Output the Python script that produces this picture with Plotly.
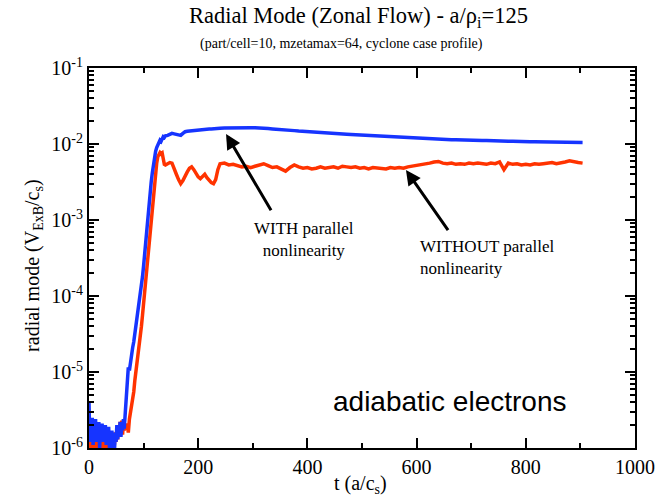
import numpy as np
import plotly.graph_objects as go

# ---- time grid (a/c_s), sampled in segments ----
t_noise = np.arange(0, 66.1, 1.5)      # 45 samples, linear phase noise floor
t_rise = np.arange(68, 140.1, 2)       # 37 samples, exponential growth
t_knee = np.arange(144, 240.1, 4)      # 25 samples, saturation
t_late = np.arange(248, 904.1, 8)      # 83 samples, nonlinear phase

# ---- WITH parallel nonlinearity (blue) ----
blue_noise = np.array([
    4.1, 1.2, 2.3, 1.4, 2.5, 1.1, 2.0, 1.6, 2.4, 1.2,
    1.9, 1.5, 2.2, 1.0, 1.8, 1.4, 2.1, 1.2, 1.7, 1.3,
    2.0, 1.1, 1.6, 1.4, 1.9, 1.0, 1.5, 0.8, 1.7, 0.7,
    1.4, 0.85, 1.6, 1.2, 2.0, 1.3, 1.8, 1.5, 2.2, 1.4,
    2.0, 1.7, 2.4, 1.8, 2.6]) * 1e-6
blue_rise = [
    4.0e-6, 8.5e-6, 1.15e-5, 1.05e-5, 1.4e-5, 1.7e-5, 2.1e-5, 2.5e-5, 3.2e-5, 3.8e-5,
    4.6e-5, 6.3e-5, 7.6e-5, 9.5e-5, 1.26e-4, 1.8e-4, 2.5e-4, 3.7e-4, 5.6e-4, 8.0e-4,
    1.12e-3, 1.6e-3, 2.4e-3, 3.2e-3, 4.2e-3, 5.6e-3, 7.0e-3, 8.0e-3, 9.0e-3, 9.8e-3,
    1.05e-2, 1.12e-2, 1.08e-2, 1.2e-2, 1.25e-2, 1.22e-2, 1.28e-2]
blue_knee = np.array([
    1.30, 1.34, 1.38, 1.36, 1.33, 1.31, 1.30, 1.38, 1.45, 1.47,
    1.48, 1.51, 1.53, 1.52, 1.54, 1.55, 1.56, 1.55, 1.57, 1.58,
    1.57, 1.59, 1.60, 1.60, 1.61]) * 1e-2
blue_late = np.array([
    1.62, 1.63, 1.64, 1.63, 1.65, 1.66, 1.64, 1.63, 1.63, 1.61,
    1.60, 1.58, 1.57, 1.56, 1.54, 1.52, 1.50, 1.48, 1.47, 1.45,
    1.43, 1.42, 1.41, 1.39, 1.38, 1.37, 1.36, 1.35, 1.34, 1.33,
    1.32, 1.31, 1.30, 1.29, 1.28, 1.27, 1.26, 1.25, 1.24, 1.23,
    1.22, 1.21, 1.20, 1.20, 1.19, 1.18, 1.17, 1.17, 1.16, 1.16,
    1.15, 1.15, 1.14, 1.14, 1.13, 1.13, 1.12, 1.12, 1.12, 1.11,
    1.11, 1.10, 1.10, 1.10, 1.09, 1.09, 1.09, 1.08, 1.08, 1.08,
    1.07, 1.07, 1.07, 1.07, 1.06, 1.06, 1.06, 1.06, 1.05, 1.05,
    1.05, 1.05, 1.05]) * 1e-2

# ---- WITHOUT parallel nonlinearity (red) ----
red_noise = np.array([
    1.3, 0.9, 1.4, 1.0, 1.5, 0.8, 1.3, 0.9, 1.6, 1.1,
    1.4, 0.9, 1.3, 1.0, 1.5, 1.1, 1.3, 0.9, 1.2, 1.0,
    1.4, 0.9, 1.3, 1.1, 1.5, 0.6, 1.2, 0.9, 1.4, 1.0,
    1.3, 1.1, 1.6, 1.2, 1.8, 1.3, 2.0, 1.5, 2.2, 1.6,
    2.3, 1.5, 2.1, 1.7, 1.9]) * 1e-6
red_rise = [
    1.8e-6, 2.1e-6, 1.6e-6, 2.4e-6, 2.9e-6, 3.4e-6, 4.2e-6, 5.5e-6, 7.8e-6, 1.0e-5,
    1.3e-5, 1.7e-5, 2.2e-5, 2.9e-5, 4.0e-5, 5.6e-5, 8.0e-5, 1.15e-4, 1.7e-4, 2.6e-4,
    4.0e-4, 5.8e-4, 8.5e-4, 1.15e-3, 1.6e-3, 2.3e-3, 3.2e-3, 4.3e-3, 5.6e-3, 6.8e-3,
    7.5e-3, 7.7e-3, 7.4e-3, 7.6e-3, 6.4e-3, 5.4e-3, 5.3e-3]
red_knee = np.array([
    5.5, 5.7, 5.6, 4.6, 4.0, 3.4, 3.0, 3.3, 3.9, 4.3,
    4.8, 5.0, 4.6, 4.0, 3.7, 3.5, 3.8, 4.0, 3.6, 3.3,
    3.1, 3.0, 3.4, 4.6, 5.5]) * 1e-3
red_late = np.array([
    5.6, 5.3, 5.4, 5.2, 5.0, 5.1, 4.9, 5.1, 5.3, 5.5,
    5.2, 4.9, 5.0, 4.7, 4.4, 4.9, 5.3, 5.0, 4.8, 4.9,
    4.7, 4.8, 5.0, 4.8, 4.9, 5.0, 4.8, 5.1, 5.0, 4.9,
    5.0, 4.8, 4.9, 4.7, 4.9, 4.8, 4.8, 4.7, 4.9, 4.8,
    4.9, 4.8, 5.0, 5.1, 5.3, 5.4, 5.5, 5.6, 5.8, 5.9,
    5.6, 5.5, 5.6, 5.4, 5.5, 5.4, 5.6, 5.5, 5.6, 5.5,
    5.4, 5.6, 5.5, 5.8, 4.6, 5.6, 5.4, 5.5, 5.3, 5.4,
    5.3, 5.5, 5.4, 5.5, 5.6, 5.7, 5.5, 5.6, 5.8, 6.0,
    5.8, 5.7, 5.6]) * 1e-3

# axis tick labels
x_ticks = [0, 200, 400, 600, 800, 1000]
y_ticks = [1e-6, 1e-5, 1e-4, 1e-3, 1e-2, 1e-1]
y_ticktext = ["10<sup>-6</sup>", "10<sup>-5</sup>", "10<sup>-4</sup>",
              "10<sup>-3</sup>", "10<sup>-2</sup>", "10<sup>-1</sup>"]

t = np.concatenate([t_noise, t_rise, t_knee, t_late])
v_with = np.concatenate([blue_noise, blue_rise, blue_knee, blue_late])
v_without = np.concatenate([red_noise, red_rise, red_knee, red_late])

SERIF = "Liberation Serif, Times New Roman, serif"
SANS = "Liberation Sans, Arial, sans-serif"

fig = go.Figure()
fig.add_trace(go.Scatter(x=t, y=v_without, mode="lines", name="WITHOUT parallel nonlinearity",
                         line=dict(color="#ff3300", width=3.5)))
fig.add_trace(go.Scatter(x=t, y=v_with, mode="lines", name="WITH parallel nonlinearity",
                         line=dict(color="#1634ff", width=3.5)))

axis_common = dict(showline=True, linewidth=2, linecolor="black", mirror="allticks",
                   ticks="inside", ticklen=10, tickwidth=2, tickcolor="black",
                   showgrid=False, zeroline=False,
                   tickfont=dict(family=SERIF, size=20, color="black"))

fig.update_xaxes(range=[0, 1000], tickvals=x_ticks,
                 minor=dict(ticks="inside", ticklen=5, tickwidth=1.5, dtick=100, tickcolor="black"),
                 **axis_common)
fig.update_yaxes(type="log", range=[-6, -1], tickvals=y_ticks, ticktext=y_ticktext,
                 minor=dict(ticks="inside", ticklen=5, tickwidth=1.5, dtick="D1", tickcolor="black"),
                 **axis_common)

ann = []
# titles
ann.append(dict(text="Radial Mode (Zonal Flow) - a/ρ<sub>i</sub>=125", xref="paper", yref="paper",
                x=0.4945, y=1.135, showarrow=False, xanchor="center", yanchor="middle",
                font=dict(family=SERIF, size=22.5, color="black")))
ann.append(dict(text="(part/cell=10, mzetamax=64, cyclone case profile)", xref="paper", yref="paper",
                x=0.462, y=1.063, showarrow=False, xanchor="center", yanchor="middle",
                font=dict(family=SERIF, size=14, color="black")))
ann.append(dict(text="t (a/c<sub>s</sub>)", xref="paper", yref="paper",
                x=0.497, y=-0.095, showarrow=False, xanchor="center", yanchor="middle",
                font=dict(family=SERIF, size=20, color="black")))
ann.append(dict(text="radial mode (V<sub>ExB</sub>/c<sub>s</sub>)", xref="paper", yref="paper",
                x=-0.102, y=0.48, showarrow=False, textangle=-90, xanchor="center", yanchor="middle",
                font=dict(family=SERIF, size=20, color="black")))
# arrows pointing at the two curves (y given as log10 on the log axis)
ann.append(dict(x=251, y=-1.868, ax=335, ay=-2.891, xref="x", yref="y", axref="x", ayref="y",
                showarrow=True, arrowhead=2, arrowsize=1.0, arrowwidth=3, arrowcolor="black", text=""))
ann.append(dict(x=580.5, y=-2.342, ax=659.5, ay=-3.154, xref="x", yref="y", axref="x", ayref="y",
                showarrow=True, arrowhead=2, arrowsize=1.0, arrowwidth=3, arrowcolor="black", text=""))
ann.append(dict(text="WITH parallel<br>nonlinearity", x=393, y=-3.25, xref="x", yref="y",
                showarrow=False, xanchor="center", yanchor="middle", align="center",
                font=dict(family=SERIF, size=17, color="black")))
ann.append(dict(text="WITHOUT parallel<br>nonlinearity", x=602, y=-3.49, xref="x", yref="y",
                showarrow=False, xanchor="left", yanchor="middle", align="left",
                font=dict(family=SERIF, size=17, color="black")))
ann.append(dict(text="adiabatic electrons", x=443.6, y=-5.39, xref="x", yref="y",
                showarrow=False, xanchor="left", yanchor="middle",
                font=dict(family=SANS, size=28, color="black")))

fig.update_layout(width=667, height=496, margin=dict(l=89, r=28, t=68, b=48),
                  paper_bgcolor="white", plot_bgcolor="white", showlegend=False,
                  annotations=ann)

fig.write_html("out.html")
